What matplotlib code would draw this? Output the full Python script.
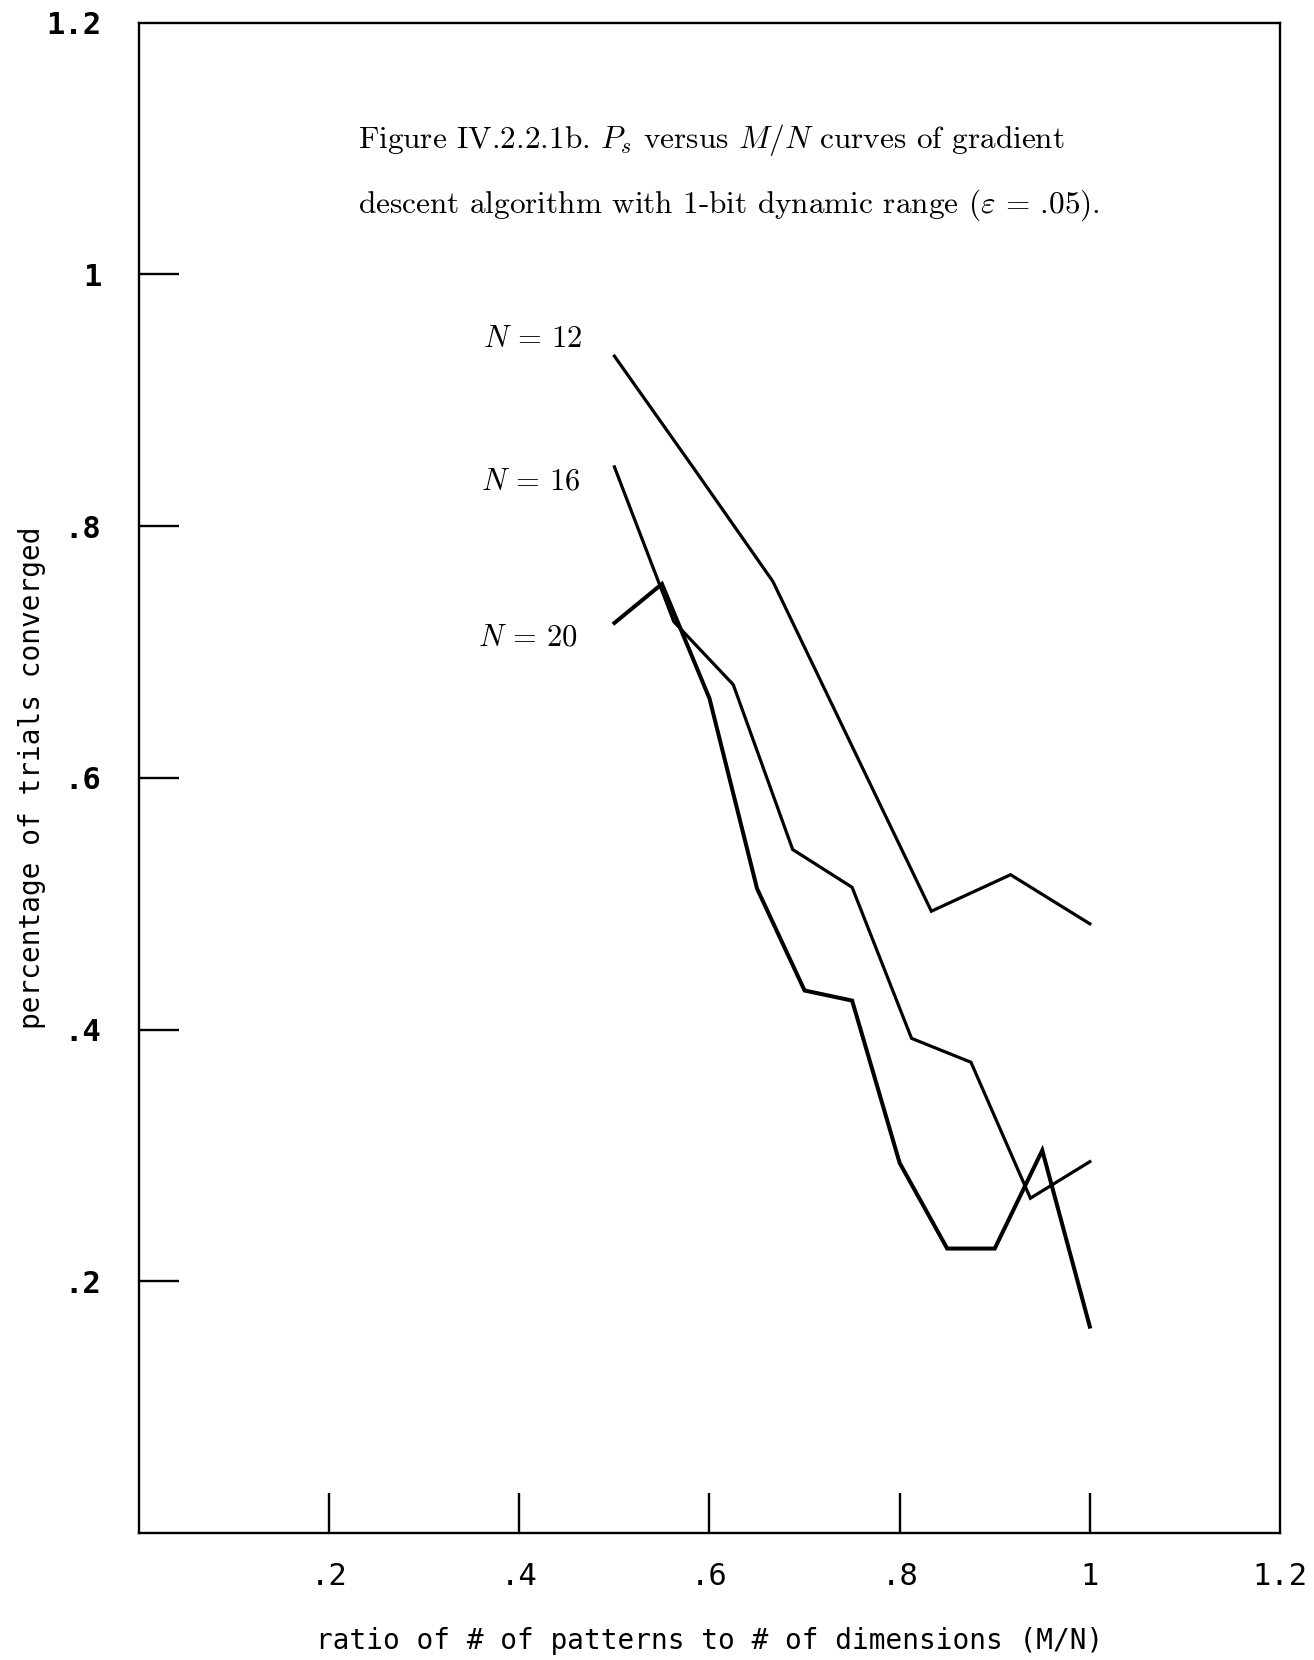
import matplotlib
matplotlib.use("Agg")
import matplotlib.pyplot as plt

# ---- data ----
n12_m = [6, 7, 8, 9, 10, 11, 12]
n12_ps = [0.935, 0.846, 0.756, 0.625, 0.494, 0.523, 0.484]

n16_m = [8, 9, 10, 11, 12, 13, 14, 15, 16]
n16_ps = [0.847, 0.724, 0.674, 0.543, 0.513, 0.393, 0.374, 0.266, 0.295]

n20_m = [10, 11, 12, 13, 14, 15, 16, 17, 18, 19, 20]
n20_ps = [0.723, 0.754, 0.663, 0.512, 0.431, 0.423, 0.294, 0.226, 0.226, 0.304, 0.164]

x_ticks = [0.2, 0.4, 0.6, 0.8, 1.0, 1.2]
x_ticklabels = [".2", ".4", ".6", ".8", "1", "1.2"]
y_ticks = [0.2, 0.4, 0.6, 0.8, 1.0, 1.2]
y_ticklabels = [".2", ".4", ".6", ".8", "1", "1.2"]

series_labels = ["$N$ = 12", "$N$ = 16", "$N$ = 20"]
caption1 = "Figure IV.2.2.1b. $P_s$ versus $M/N$ curves of gradient"
caption2 = r"descent algorithm with 1-bit dynamic range ($\varepsilon$ = .05)."
xlabel = "ratio of # of patterns to # of dimensions (M/N)"
ylabel = "percentage of trials converged"

plt.rcParams['mathtext.fontset'] = 'cm'
plt.rcParams['axes.unicode_minus'] = False

fig = plt.figure(figsize=(13.14, 16.60), dpi=100)
ax = fig.add_axes([0.1058, 0.0765, 0.8683, 0.9099])

x12 = [m / 12 for m in n12_m]
x16 = [m / 16 for m in n16_m]
x20 = [m / 20 for m in n20_m]
ax.plot(x12, n12_ps, color='black', lw=2.3, solid_joinstyle='miter')
ax.plot(x16, n16_ps, color='black', lw=2.3, solid_joinstyle='miter')
ax.plot(x20, n20_ps, color='black', lw=2.9, solid_joinstyle='miter')

ax.set_xlim(0, 1.2)
ax.set_ylim(0, 1.2)

for s in ax.spines.values():
    s.set_linewidth(1.7)
    s.set_color('black')

ax.set_xticks(x_ticks)
ax.set_xticklabels(x_ticklabels, family='DejaVu Sans Mono', fontsize=22)
ax.set_yticks(y_ticks)
ax.set_yticklabels(y_ticklabels, family='DejaVu Sans Mono', fontsize=22, fontweight='bold')
ax.tick_params(axis='both', direction='in', length=29, width=1.7, color='black')
ax.tick_params(axis='x', pad=21)
ax.tick_params(axis='y', pad=27)
# hide tick marks at 1.2 (they lie on the frame)
ax.xaxis.get_major_ticks()[-1].tick1line.set_visible(False)
ax.yaxis.get_major_ticks()[-1].tick1line.set_visible(False)

ax.set_xlabel(xlabel, family='DejaVu Sans Mono', fontsize=20)
ax.xaxis.set_label_coords(0.5, -0.0715)
ax.xaxis.label.set_va('center')
ax.set_ylabel(ylabel, family='DejaVu Sans Mono', fontsize=20)
ax.yaxis.set_label_coords(-0.0938, 0.5)
ax.yaxis.label.set_va('center')

# series labels
label_pos = [(0.362, 0.948), (0.360, 0.835), (0.357, 0.711)]
for (lx, ly), t in zip(label_pos, series_labels):
    ax.text(lx, ly, t, family='cmr10', fontsize=22, ha='left', va='center')

# caption inside the frame
ax.text(0.230, 1.107, caption1, family='cmr10', fontsize=22.5, ha='left', va='center')
ax.text(0.230, 1.055, caption2, family='cmr10', fontsize=22.5, ha='left', va='center')

fig.savefig("out.png", dpi=100, facecolor='white')
